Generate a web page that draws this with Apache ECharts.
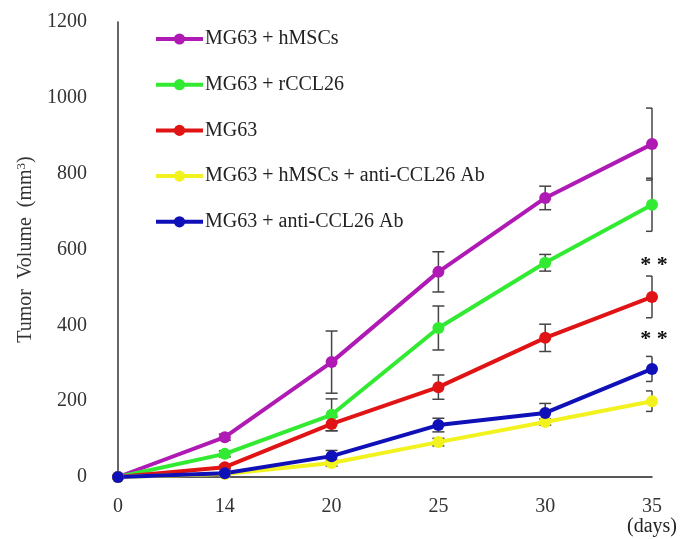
<!DOCTYPE html>
<html><head><meta charset="utf-8">
<script src="https://cdn.jsdelivr.net/npm/echarts@6/dist/echarts.min.js"></script>
<style>html,body{margin:0;padding:0;background:#fff}#c{width:680px;height:539px}</style>
</head><body><div id="c"></div>
<script>
var days = ['0','14','20','25','30','35'];
var yTicks = [0,200,400,600,800,1000,1200];
var names = ['MG63 + hMSCs','MG63 + rCCL26','MG63','MG63 + hMSCs + anti-CCL26 Ab','MG63 + anti-CCL26 Ab'];
var hmscVals   = [0,105,303,541,736,878];
var hmscErr    = [0,8,82,53,31,95];
var rcclVals   = [0,61,164,393,565,718];
var rcclErr    = [0,8,42,58,22,70];
var mg63Vals   = [0,26,140,237,367,475];
var mg63Err    = [0,5,18,32,36,55];
var hmscAbVals = [0,8,37,92,145,200];
var hmscAbErr  = [0,3,8,10,8,27];
var abVals     = [0,10,55,137,169,285];
var abErr      = [0,4,15,18,25,33];
var sigMarks = [{series:2, value:575, text:'* *'},{series:4, value:378, text:'* *'}];

var colors = ['#b01ab4','#33ea33','#e01414','#f2f21e','#1010b8'];
var vals = [hmscVals,rcclVals,mg63Vals,hmscAbVals,abVals];
var errs = [hmscErr,rcclErr,mg63Err,hmscAbErr,abErr];
var FONT = 'Liberation Serif';

var series = [];
for (var s=0;s<5;s++){
  (function(s){
    var d = vals[s].map(function(v,i){return [i, v-errs[s][i], v+errs[s][i]];});
    series.push({
      type:'custom', z:1, silent:true,
      data:d,
      renderItem:function(params, api){
        var i = api.value(0);
        var lo = api.coord([i, api.value(1)]);
        var hi = api.coord([i, api.value(2)]);
        var x = lo[0], w = 6;
        var last = i === days.length-1;
        var r = last ? 0 : w;
        var st = {stroke:'#444', lineWidth:1.5};
        return {type:'group', children:[
          {type:'line', shape:{x1:x,y1:lo[1],x2:x,y2:hi[1]}, style:st},
          {type:'line', shape:{x1:x-w,y1:lo[1],x2:x+r,y2:lo[1]}, style:st},
          {type:'line', shape:{x1:x-w,y1:hi[1],x2:x+r,y2:hi[1]}, style:st}
        ]};
      }
    });
  })(s);
}
[0,1,2,3,4].forEach(function(s){
  var mp = sigMarks.filter(function(m){return m.series===s;}).map(function(m){
    return {coord:[days.length-1, m.value], value:m.text};
  });
  series.push({
    name:names[s], type:'line', data:vals[s], z:3,
    symbol:'circle', symbolSize:12,
    lineStyle:{width:4, color:colors[s]},
    itemStyle:{color:colors[s]},
    markPoint: mp.length ? {
      symbol:'circle', symbolSize:1, itemStyle:{color:'rgba(0,0,0,0)'},
      label:{show:true, formatter:'{c}', color:'#111', fontFamily:FONT, fontSize:22, fontWeight:'bold', offset:[2,6]},
      data:mp
    } : undefined
  });
});

var chart = echarts.init(document.getElementById('c'), null, {renderer:'canvas'});
chart.setOption({
  animation:false,
  color:colors,
  grid:{left:118, right:25, top:22, bottom:62, containLabel:false},
  legend:{
    data:names, orient:'vertical', left:149, top:24, itemWidth:47, itemHeight:14, itemGap:25.7,
    lineStyle:{width:4},
    textStyle:{fontFamily:FONT, fontSize:20, color:'#222', padding:[0,0,0,-3]}
  },
  xAxis:{
    type:'category', data:days, boundaryGap:false,
    axisLine:{lineStyle:{color:'#222', width:1.5}},
    axisTick:{show:false},
    axisLabel:{fontFamily:FONT, fontSize:20, color:'#333', margin:20},
    name:'(days)', nameLocation:'end', nameGap:25,
    nameTextStyle:{fontFamily:FONT, fontSize:20, color:'#222', align:'right', verticalAlign:'top', padding:[40,0,0,0]}
  },
  yAxis:{
    type:'value', min:0, max:1200, interval:200,
    axisLine:{show:true, lineStyle:{color:'#333', width:1.5}},
    axisTick:{show:false},
    splitLine:{show:false},
    axisLabel:{fontFamily:FONT, fontSize:20, color:'#333', margin:31, formatter:function(v){return String(v);}},
    name:'{t|Tumor  Volume  (mm}{s|3}{t|)}', nameLocation:'middle', nameRotate:90, nameGap:82,
    nameTextStyle:{rich:{t:{fontFamily:FONT, fontSize:20, color:'#333'}, s:{fontFamily:FONT, fontSize:13, color:'#333', verticalAlign:'top', padding:[0,0,8,0]}}}
  },
  series:series
});
</script></body></html>
